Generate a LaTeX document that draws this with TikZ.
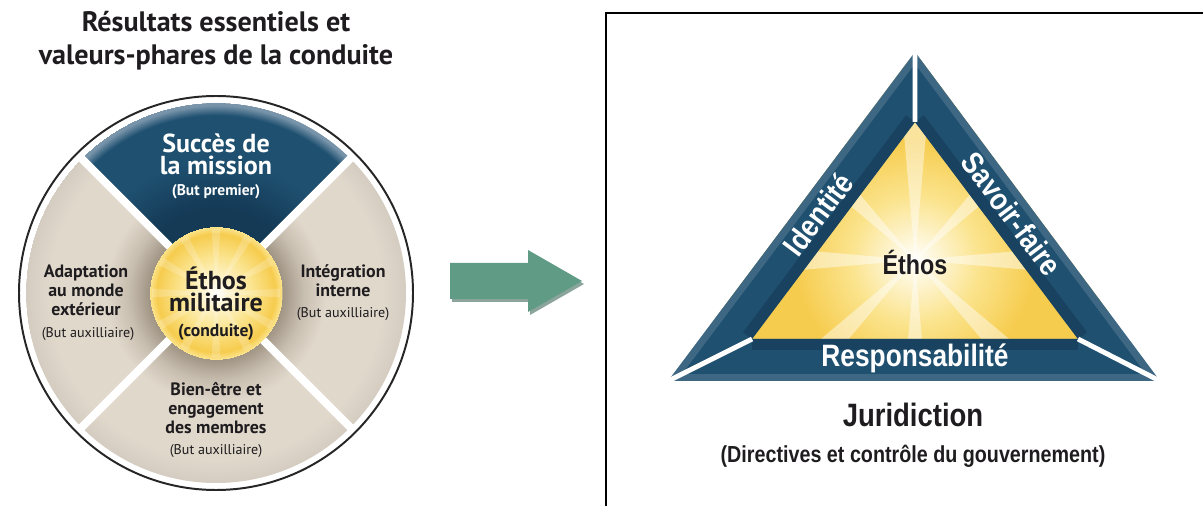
\documentclass[tikz,border=0pt]{standalone}
\usepackage{fontspec}
\setmainfont{PT Sans}
\newfontfamily\condfont[FakeStretch=0.85]{Liberation Sans}
\usetikzlibrary{calc}
\definecolor{inkgrey}{RGB}{30,28,30}
\definecolor{navy}{RGB}{31,80,112}
\definecolor{navydark}{RGB}{20,58,86}
\definecolor{steel}{RGB}{120,148,170}
\definecolor{tandark}{RGB}{160,148,132}
\definecolor{tanmid}{RGB}{200,190,176}
\definecolor{tanlight}{RGB}{224,216,203}
\definecolor{tanrim}{RGB}{212,204,192}
\definecolor{gold}{RGB}{246,204,78}
\definecolor{goldlight}{RGB}{251,228,142}
\definecolor{arrowgreen}{RGB}{96,155,134}
\definecolor{arrowshadow}{RGB}{62,104,90}
% radii in bp at true size (1 unit = 0.7087bp)
\pgfdeclareradialshading{beigering}{\pgfpoint{0bp}{0bp}}{color(0bp)=(tandark); color(47bp)=(tandark); color(62bp)=(tanmid); color(78bp)=(tanlight); color(118bp)=(tanlight); color(135bp)=(tanrim)}
\pgfdeclareradialshading{bluering}{\pgfpoint{0bp}{0bp}}{color(0bp)=(navydark); color(60bp)=(navydark); color(95bp)=(navy); color(126bp)=(navy); color(133bp)=(steel); color(135bp)=(steel)}
\pgfdeclareradialshading{yellowdisc}{\pgfpoint{0bp}{0bp}}{color(0bp)=(white); color(8bp)=(goldlight!35); color(26bp)=(goldlight); color(42bp)=(gold); color(47bp)=(goldlight)}
\pgfdeclareradialshading{glow}{\pgfpoint{0bp}{0bp}}{color(0bp)=(white); color(15bp)=(goldlight!35); color(45bp)=(goldlight); color(85bp)=(gold); color(142bp)=(gold)}

\begin{document}
\begin{tikzpicture}[x=0.025cm, y=0.025cm,
    every node/.style={inner sep=0pt, align=center},
    biglbl/.style={font=\bfseries\fontsize{18.5}{15.8}\selectfont},
    midlbl/.style={font=\bfseries\fontsize{12.7}{13.5}\selectfont, text=inkgrey},
    sublbl/.style={font=\fontsize{10}{12}\selectfont, text=inkgrey},
    bandtxt/.style={font=\condfont\bfseries\fontsize{22}{24}\selectfont, text=white},
    gap/.style={draw=white, line width=3.5pt}]
\useasboundingbox (0,0) rectangle (1203,506);
\clip (0,0) rectangle (1203,506);

% left: the wheel
\coordinate (c) at (216,213);
\begin{scope}
  \clip (c) circle (190);
  \node (ringshade) at (c) {\pgfuseshading{beigering}};
\end{scope}
\begin{scope}
  \clip (c) -- ++(45:190) arc (45:135:190) -- cycle;
  \node (blueshade) at (c) {\pgfuseshading{bluering}};
\end{scope}
\foreach \a in {45,135,225,315}
  \draw[white, line width=5.7pt] (c) -- ++(\a:193);
\draw[black!85, line width=1.4pt] (c) circle (197);
\node (coreshade) at (c) {\pgfuseshading{yellowdisc}};
\begin{scope}[shift={(c)}]
  \foreach \a in {0,30,...,330}
    \fill[white, opacity=.2] (0,0) -- (\a-4:64) -- (\a+4:64) -- cycle;
\end{scope}

\node[font=\bfseries\fontsize{20}{23.4}\selectfont, text=inkgrey] (title) at (216,465) {Résultats essentiels et\\valeurs-phares de la conduite};
\node[biglbl, text=white] (mission) at (216,352) {Succès de\\la mission};
\node[font=\bfseries\fontsize{11}{13}\selectfont, text=white] (missionsub) at (216,314) {(But premier)};
\node[biglbl, text=inkgrey] (ethos) at (216,217) {Éthos\\militaire};
\node[font=\bfseries\fontsize{12.5}{14}\selectfont, text=inkgrey] (ethossub) at (216,174) {(conduite)};
\node[midlbl] (adapt) at (86,216) {Adaptation\\au monde\\extérieur};
\node[sublbl] (adaptsub) at (88,172) {(But auxilliaire)};
\node[midlbl] (integ) at (343,225) {Intégration\\interne};
\node[sublbl] (integsub) at (343,192) {(But auxilliaire)};
\node[midlbl] (bienetre) at (216,98) {Bien-être et\\engagement\\des membres};
\node[sublbl] (bienetresub) at (216,55) {(But auxilliaire)};

% arrow between the two figures
\coordinate (arrtail) at (450,225);
\coordinate (arrtip) at (582,225);
\fill[arrowshadow, opacity=.6] ([shift={(2,-3)}]arrtail) ++(0,18) -- ++(78,0) -- ++(0,13) -- ([shift={(2,-3)}]arrtip) -- ++(-54,-31) -- ++(0,13) -- ++(-78,0) -- cycle;
\fill[arrowgreen] (arrtail) ++(0,18) -- ++(78,0) -- ++(0,13) -- (arrtip) -- ++(-54,-31) -- ++(0,13) -- ++(-78,0) -- cycle;

% right: frame and triangle
\draw[black, line width=2.1pt] (606,-20) rectangle (1230,493);
\coordinate (A) at (915,454);
\coordinate (B) at (668,125);
\coordinate (C) at (1160,125);
\coordinate (Ai) at (915,384);
\coordinate (Bi) at (752,167);
\coordinate (Ci) at (1078,167);
\coordinate (g) at (915,246);
\begin{scope}
  \clip (A) -- (B) -- (C) -- cycle;
  \node (glowshade) at (g) {\pgfuseshading{glow}};
  \begin{scope}[shift={(g)}]
    \foreach \a in {0,45,...,315}
      \fill[white, opacity=.45] (0,0) -- (\a-5:200) -- (\a+5:200) -- cycle;
  \end{scope}
\end{scope}
\foreach \p/\q/\r/\s in {B/A/Ai/Bi, A/C/Ci/Ai, B/C/Ci/Bi}{
  \fill[navy] (\p) -- (\q) -- (\r) -- (\s) -- cycle;
  \begin{scope}
    \clip (\p) -- (\q) -- (\r) -- (\s) -- cycle;
    \draw[navydark, line width=16pt, opacity=.6] (\s) -- (\r);
    \draw[steel, line width=10pt, opacity=.35] (\p) -- (\q);
  \end{scope}
}
\draw[gap] (A) -- (Ai) (B) -- (Bi) (C) -- (Ci);

\node[bandtxt, rotate=53.1] (identite) at (818,292) {Identité};
\node[bandtxt, rotate=-53.1] (savoir) at (1012,292) {Savoir-faire};
\node[bandtxt] (respons) at (915,148) {Responsabilité};
\node[font=\condfont\bfseries\fontsize{19.5}{22}\selectfont, text=inkgrey] (ethostri) at (915,244) {Éthos};
\node[font=\condfont\bfseries\fontsize{23}{26}\selectfont, text=inkgrey] (jurid) at (913,91) {Juridiction};
\node[font=\condfont\bfseries\fontsize{16.5}{19}\selectfont, text=inkgrey] (directives) at (913,50) {(Directives et contrôle du gouvernement)};
\end{tikzpicture}
\end{document}
